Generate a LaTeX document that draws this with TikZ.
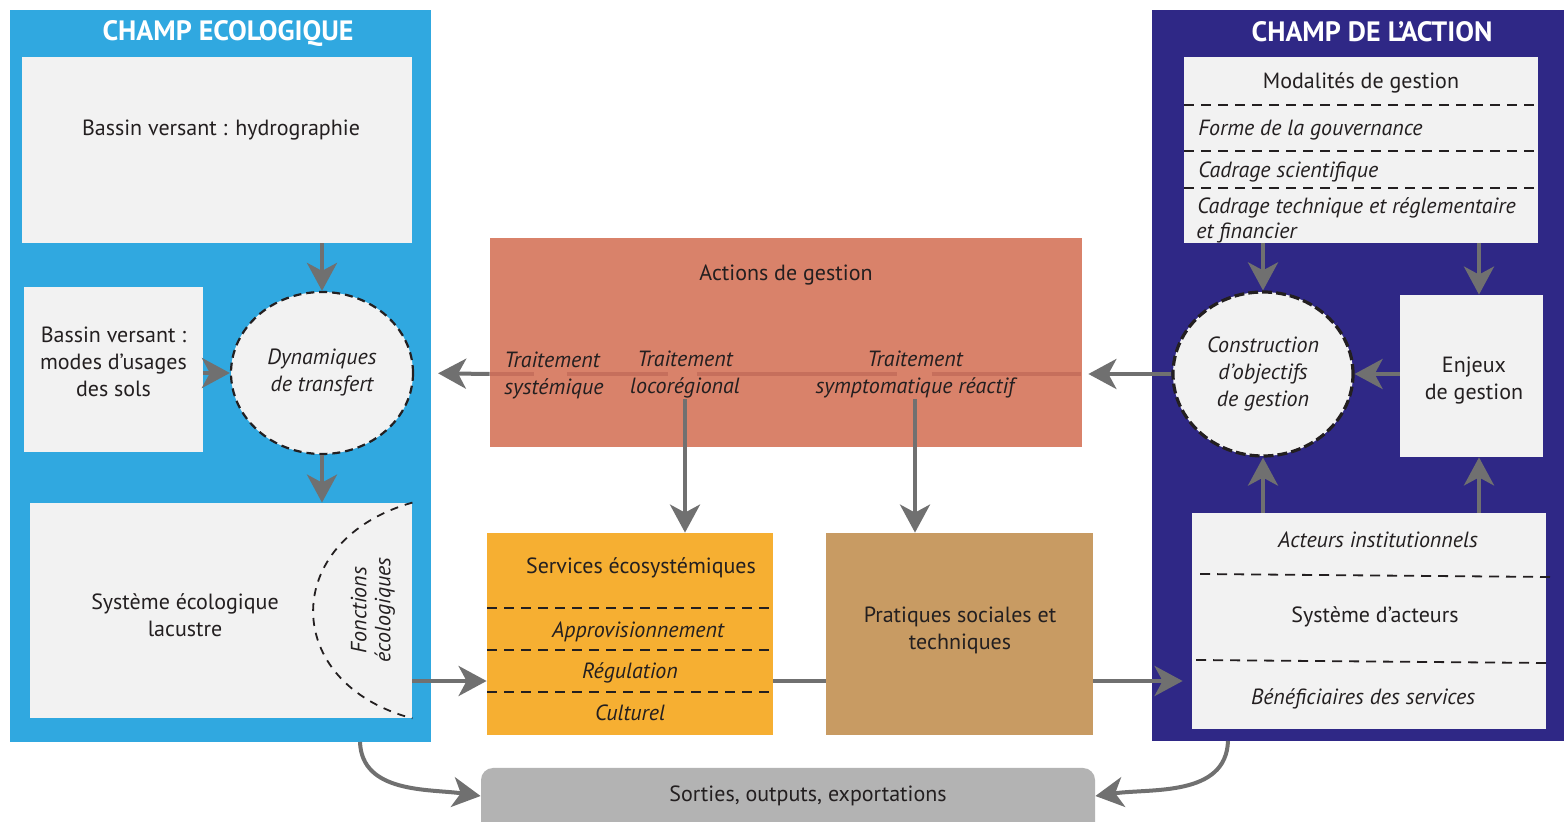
\documentclass[tikz,border=0pt]{standalone}
\usepackage{fontspec}
\setmainfont{PT Sans}
\usetikzlibrary{arrows.meta,shapes.geometric,fit,calc}

\definecolor{ecoblue}{HTML}{30A8E0}
\definecolor{actindigo}{HTML}{2F2886}
\definecolor{salmon}{HTML}{D9826A}
\definecolor{salmonline}{HTML}{C66F5C}
\definecolor{servorange}{HTML}{F6AF32}
\definecolor{pratan}{HTML}{C89B63}
\definecolor{outgray}{HTML}{B3B3B3}
\definecolor{boxfill}{HTML}{F2F2F2}
\definecolor{arrgray}{HTML}{707070}
\definecolor{ink}{HTML}{231F20}

\begin{document}
\begin{tikzpicture}[x=0.5pt,y=-0.5pt,
  font=\fontsize{11}{13.5}\selectfont,
  every node/.style={text=ink},
  panel/.style={inner sep=0pt},
  lightbox/.style={fill=boxfill, inner sep=0pt, align=center},
  colbox/.style={inner sep=0pt, align=center},
  label/.style={inner sep=0pt, align=center},
  itlabel/.style={inner sep=0pt, align=center, font=\fontsize{11}{13.5}\selectfont\itshape},
  title/.style={inner sep=0pt, text=white, font=\fontsize{14}{16}\selectfont\bfseries},
  blob/.style={ellipse, fill=boxfill, draw=ink, inner sep=0pt, align=center, font=\fontsize{11}{13.5}\selectfont\itshape},
  sep/.style={draw=ink, line width=0.9pt, dash pattern=on 5pt off 3.5pt},
  arr/.style={draw=arrgray, line width=2pt, -{Stealth[length=14pt,width=15pt,inset=4pt]}},
  link/.style={draw=arrgray, line width=2pt},
]
\clip (0,0) rectangle (1564,822);
\useasboundingbox (0,0) rectangle (1564,822);
\fill[white] (0,0) rectangle (1564,822);

% ---------- ecological field ----------
\node[panel, fill=ecoblue, fit={(10,10) (431,742)}] (eco) {};
\node[title] (ecotitle) at (228,34) {CHAMP ECOLOGIQUE};

\node[lightbox, fit={(22,57) (412,243)}] (hydro) {};
\node[label] (hydrotxt) at (221,130) {Bassin versant : hydrographie};

\node[lightbox, fit={(24,287) (203,452)}] (modes) {Bassin versant :\\modes d’usages\\des sols};

\node[blob, line width=1.1pt, dash pattern=on 4pt off 2.5pt,
      minimum width=91pt, minimum height=81pt] (dyn) at (322,373) {Dynamiques\\de transfert};

\node[lightbox, fit={(30,503) (412,718)}] (lac) {};
\node[label] (lactxt) at (185,615) {Système écologique\\lacustre};
\draw[draw=ink, line width=0.9pt, dash pattern=on 4pt off 3.5pt]
  (lac.north east) .. controls (280,540) and (280,683) .. (lac.south east);
\node[itlabel, rotate=90, font=\fontsize{11}{12}\selectfont\itshape] (fonct) at (373,610) {Fonctions\\écologiques};

\draw[arr] (hydro.south -| dyn.north) -- (dyn.north);
\draw[arr] (modes.east |- dyn.west) -- (dyn.west);
\draw[arr] (dyn.south) -- (dyn.south |- lac.north);

% ---------- action field ----------
\node[panel, fill=actindigo, fit={(1152,10) (1564,741)}] (actn) {};
\node[title] (actntitle) at (1372,32) {CHAMP DE L’ACTION};

\node[lightbox, fit={(1184,57) (1538,243)}] (moda) {};
\node[label] (modatitle) at (1361,83) {Modalités de gestion};
\draw[sep] (1184,105) -- (1538,105);
\draw[sep] (1184,151) -- (1538,151);
\draw[sep] (1184,188) -- (1538,188);
\begin{scope}[every node/.style={text=ink, inner sep=0pt, anchor=west, font=\fontsize{11}{13}\selectfont\itshape}]
  \node (gouv) at (1198,130) {Forme de la gouvernance};
  \node (scien) at (1198,172) {Cadrage scientifique};
  \node (techn) at (1197,208) {Cadrage technique et réglementaire};
  \node (fin) at (1196,233) {et financier};
\end{scope}

\node[blob, line width=1.6pt, dash pattern=on 5pt off 2pt,
      minimum width=90pt, minimum height=82pt] (constr) at (1263,374) {Construction\\d’objectifs\\de gestion};

\node[lightbox, fit={(1400,295) (1543,457)}] (enj) {};
\node[label] (enjtxt) at (1474,381) {Enjeux\\de gestion};

\node[lightbox, fit={(1192,513) (1546,729)}] (acteurs) {};
\draw[sep] (1200,574) -- (1550,577);
\draw[sep] (1196,660) -- (1546,663);
\node[itlabel] (instit) at (1378,540) {Acteurs institutionnels};
\node[label] (sysact) at (1375,617) {Système d’acteurs};
\node[itlabel] (benef) at (1363,699) {Bénéficiaires des services};

\coordinate (modaL) at (1263,243);
\coordinate (modaR) at (1479,243);
\coordinate (actL) at (1263,513);
\coordinate (actR) at (1479,513);
\draw[arr] (modaL) -- (constr.north);
\draw[arr] (modaR) -- (modaR |- enj.north);
\draw[arr] (enj.west |- constr.east) -- (constr.east);
\draw[arr] (actL) -- (constr.south);
\draw[arr] (actR) -- (actR |- enj.south);

% ---------- management actions ----------
\node[colbox, fill=salmon, fit={(490,238) (1082,447)}] (act) {};
\draw[salmonline, line width=2pt,
      dash pattern=on 22pt off 16.5pt on 50.5pt off 14.5pt on 100pt off 17.5pt on 74.5pt off 20pt]
  (act.west |- constr.west) -- (act.east |- constr.west);
\node[label] (acttitle) at (786,275) {Actions de gestion};
\begin{scope}[every node/.style={text=ink, inner sep=0pt, font=\fontsize{11}{13.5}\selectfont\itshape}]
  \node[align=left] (tsys) at (554,375) {Traitement\\systémique};
  \node[align=center] (tloc) at (685,375) {Traitement\\locorégional};
  \node[align=center] (tsym) at (915,375) {Traitement\\symptomatique réactif};
\end{scope}

\draw[arr, shorten >=3pt] (constr.west) -- (act.east |- constr.west);
\draw[arr, shorten >=12pt] (act.west |- constr.west) -- (dyn.east);

% ---------- services and practices ----------
\node[colbox, fill=servorange, fit={(487,533) (773,735)}] (serv) {};
\node[label] (servtitle) at (641,568) {Services écosystémiques};
\draw[sep] (487,608) -- (773,608);
\draw[sep] (487,650) -- (773,650);
\draw[sep] (487,692) -- (773,692);
\begin{scope}[every node/.style={text=ink, inner sep=0pt, font=\fontsize{11}{13}\selectfont\itshape}]
  \node (appro) at (638,632) {Approvisionnement};
  \node (regul) at (630,673) {Régulation};
  \node (cult) at (630,713) {Culturel};
\end{scope}

\node[colbox, fill=pratan, fit={(826,533) (1093,735)}] (prat) {};
\node[label] (prattxt) at (960,630) {Pratiques sociales et\\techniques};

\draw[arr] (tloc.south) -- (tloc.south |- serv.north);
\draw[arr] (tsym.south) -- (tsym.south |- prat.north);

\coordinate (lacOut) at (412,681);
\draw[arr] (lacOut) -- (lacOut -| serv.west);
\draw[link] (serv.east |- lacOut) -- (prat.west |- lacOut);
\draw[arr, shorten >=4.5pt] (prat.east |- lacOut) -- (acteurs.west |- lacOut);

% ---------- outputs ----------
\node[inner sep=0pt, fill=outgray, rounded corners=6pt, fit={(481,768) (1095,850)}] (sorties) {};
\node[label] (sortxt) at (808,796) {Sorties, outputs, exportations};

\coordinate (ecoOut) at (360,742);
\coordinate (actnOut) at (1228,741);
\draw[arr] (ecoOut) to[out=-88, in=172] (sorties.west |- sortxt.west);
\draw[arr] (actnOut) to[out=-92, in=8] (sorties.east |- sortxt.east);

\end{tikzpicture}
\end{document}
